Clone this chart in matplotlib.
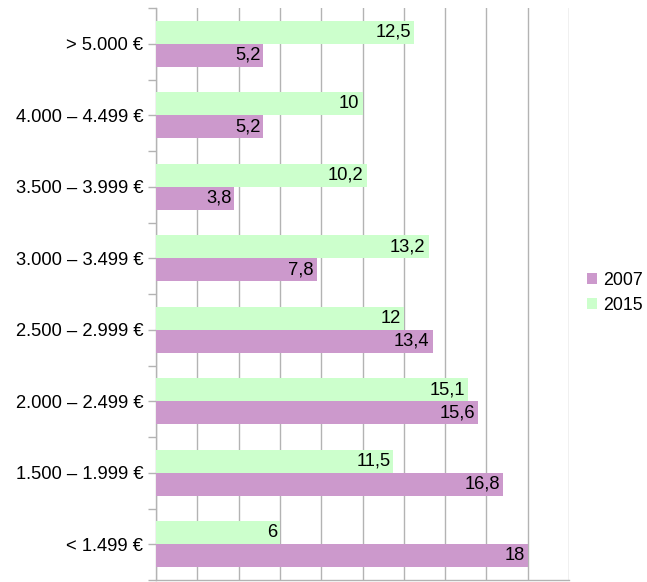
import matplotlib
matplotlib.use("Agg")
import matplotlib.pyplot as plt
import numpy as np

categories = ["< 1.499 €", "1.500 – 1.999 €", "2.000 – 2.499 €", "2.500 – 2.999 €",
              "3.000 – 3.499 €", "3.500 – 3.999 €", "4.000 – 4.499 €", "> 5.000 €"]
v2007 = [18, 16.8, 15.6, 13.4, 7.8, 3.8, 5.2, 5.2]
v2015 = [6, 11.5, 15.1, 12, 13.2, 10.2, 10, 12.5]
labels2007 = ["18", "16,8", "15,6", "13,4", "7,8", "3,8", "5,2", "5,2"]
labels2015 = ["6", "11,5", "15,1", "12", "13,2", "10,2", "10", "12,5"]

plt.rcParams['font.family'] = ['Liberation Sans', 'DejaVu Sans']

fig = plt.figure(figsize=(6.47, 5.82), dpi=100)
ax = fig.add_axes([156/647, 2/582, (569-156)/647, (580-8)/582])

c07 = "#cc99cc"
c15 = "#ccffcc"
gray = "#b3b3b3"
fs = 13.2
y = np.arange(len(categories))
h = 0.32
b07 = ax.barh(y - h/2, v2007, height=h, color=c07, label="2007", zorder=3)
b15 = ax.barh(y + h/2, v2015, height=h, color=c15, label="2015", zorder=3)

for bars, labs in ((b07, labels2007), (b15, labels2015)):
    for bar, lab in zip(bars, labs):
        ax.text(bar.get_width() - 0.15, bar.get_y() + bar.get_height()/2, lab,
                ha="right", va="center", fontsize=fs, color="black", zorder=4)

ax.set_xlim(0, 20)
ax.set_ylim(-0.5, len(categories) - 0.5)
ax.set_xticks(np.arange(0, 21, 2))
ax.set_xticklabels([])
ax.xaxis.grid(True, color=gray, linewidth=1, zorder=0)
ax.tick_params(axis="x", length=0)
ax.set_yticks(y)
ax.set_yticklabels(categories, fontsize=fs)
ax.set_yticks(np.arange(-0.5, len(categories), 1), minor=True)
ax.tick_params(axis="y", which="both", direction="out", length=6, color=gray, width=1, pad=3)
for s in ("top", "right"):
    ax.spines[s].set_visible(False)
for s in ("left", "bottom"):
    ax.spines[s].set_color(gray)
    ax.spines[s].set_linewidth(1)

handles = [b07, b15]
leg = fig.legend(handles, ["2007", "2015"], loc="center left",
                 bbox_to_anchor=(587/647, 1 - 293/582), frameon=False, fontsize=12.8,
                 borderaxespad=0, borderpad=0,
                 handlelength=0.55, handleheight=0.55, handletextpad=0.35, labelspacing=0.45)

fig.savefig("out.png", dpi=100)
